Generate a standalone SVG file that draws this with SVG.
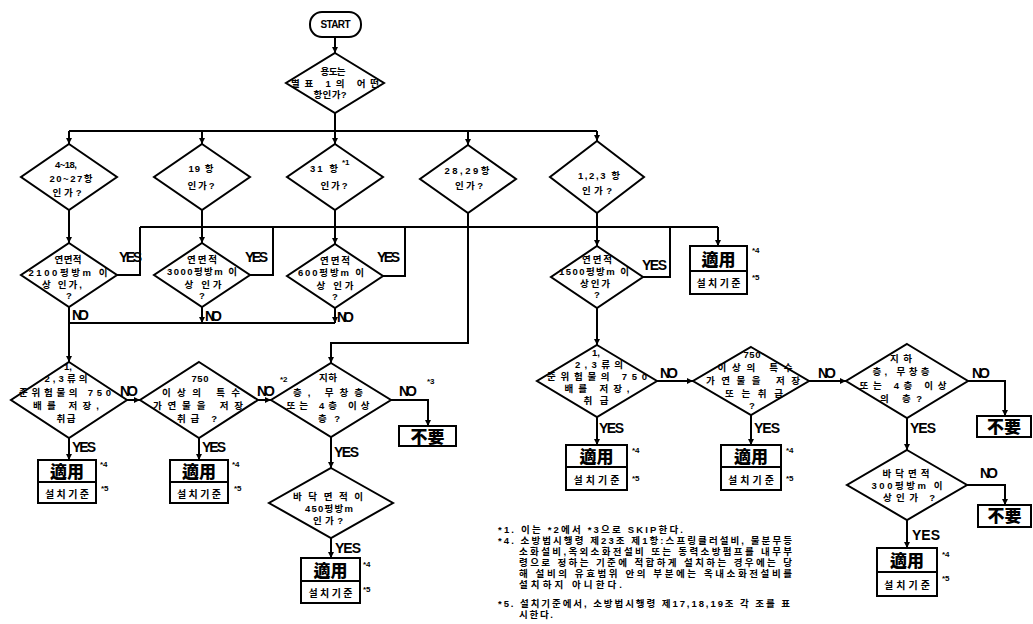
<svg xmlns="http://www.w3.org/2000/svg" width="1033" height="624" viewBox="0 0 1033 624">
<style>
.ln{fill:none;stroke:#000;stroke-width:2}
.sh{fill:#fff;stroke:#000;stroke-width:2}
.t{font-family:"Liberation Sans","Noto Sans CJK KR",sans-serif;font-weight:700;font-size:9.5px;text-anchor:middle;fill:#000}
.yn{font-family:"Liberation Sans",Arial,sans-serif;font-weight:700;font-size:14px;fill:#000}
.big{font-family:"Noto Sans CJK KR","Noto Sans CJK SC",sans-serif;font-weight:900;font-size:17px;text-anchor:middle;fill:#000}
.sm{font-family:"Noto Sans CJK KR",sans-serif;font-weight:700;font-size:10px;text-anchor:middle;fill:#000}
.mk{font-family:"Liberation Sans",Arial,sans-serif;font-weight:700;font-size:8px;fill:#000}
.note{font-family:"Liberation Sans","Noto Sans CJK KR",sans-serif;font-weight:700;font-size:9.5px;fill:#000}
.st{font-family:"Liberation Sans",Arial,sans-serif;font-weight:700;font-size:10px;text-anchor:middle;fill:#000}
</style>
<defs>
<marker id="ar" markerUnits="userSpaceOnUse" markerWidth="7" markerHeight="7" refX="6" refY="3" orient="auto">
<path d="M0,0 L6,3 L0,6 z" fill="#000"/>
</marker>
</defs>

<g id="connectors">
<path class="ln" d="M335,37 V53" marker-end="url(#ar)"/>
<path class="ln" d="M335,113 V131 M69,131 H597"/>
<path class="ln" d="M69,131 V144" marker-end="url(#ar)"/>
<path class="ln" d="M202,131 V144" marker-end="url(#ar)"/>
<path class="ln" d="M335,131 V144" marker-end="url(#ar)"/>
<path class="ln" d="M468,131 V145" marker-end="url(#ar)"/>
<path class="ln" d="M597,131 V141" marker-end="url(#ar)"/>
<path class="ln" d="M69,210 V243" marker-end="url(#ar)"/>
<path class="ln" d="M202,210 V243" marker-end="url(#ar)"/>
<path class="ln" d="M335,210 V244" marker-end="url(#ar)"/>
<path class="ln" d="M597,213 V246" marker-end="url(#ar)"/>
<path class="ln" d="M468,213 V343 H331 V363" marker-end="url(#ar)"/>
<path class="ln" d="M140,227 H718"/>
<path class="ln" d="M718,227 V246" marker-end="url(#ar)"/>
<path class="ln" d="M117,275 H140 V227"/>
<path class="ln" d="M250,275 H273 V227"/>
<path class="ln" d="M383,276 H405 V227"/>
<path class="ln" d="M643,277 H670 V227"/>
<path class="ln" d="M69,323 H335"/>
<path class="ln" d="M202,307 V323" marker-end="url(#ar)"/>
<path class="ln" d="M335,308 V323" marker-end="url(#ar)"/>
<path class="ln" d="M69,307 V362" marker-end="url(#ar)"/>
<path class="ln" d="M597,308 V345" marker-end="url(#ar)"/>
<path class="ln" d="M127,400 H140" marker-end="url(#ar)"/>
<path class="ln" d="M258,400 H271" marker-end="url(#ar)"/>
<path class="ln" d="M391,400 H428 V426" marker-end="url(#ar)"/>
<path class="ln" d="M69,438 V460" marker-end="url(#ar)"/>
<path class="ln" d="M199,438 V460" marker-end="url(#ar)"/>
<path class="ln" d="M331,437 V468" marker-end="url(#ar)"/>
<path class="ln" d="M331,538 V558" marker-end="url(#ar)"/>
<path class="ln" d="M657,381 H693" marker-end="url(#ar)"/>
<path class="ln" d="M809,381 H846" marker-end="url(#ar)"/>
<path class="ln" d="M968,381 H1005 V416" marker-end="url(#ar)"/>
<path class="ln" d="M597,417 V445" marker-end="url(#ar)"/>
<path class="ln" d="M751,415 V445" marker-end="url(#ar)"/>
<path class="ln" d="M907,418 V450" marker-end="url(#ar)"/>
<path class="ln" d="M967,485 H1005 V505" marker-end="url(#ar)"/>
<path class="ln" d="M907,520 V548" marker-end="url(#ar)"/>
<text class="yn" x="119" y="262" textLength="23">YES</text>
<text class="yn" x="245" y="262" textLength="23">YES</text>
<text class="yn" x="377" y="262" textLength="23">YES</text>
<text class="yn" x="642" y="270" textLength="25">YES</text>
<text class="yn" x="72" y="320" textLength="17">NO</text>
<text class="yn" x="205" y="321" textLength="17">NO</text>
<text class="yn" x="337" y="322" textLength="17">NO</text>
<text class="yn" x="120" y="396" textLength="18">NO</text>
<text class="yn" x="257" y="396" textLength="18">NO</text>
<text class="mk" x="280" y="382">*2</text>
<text class="yn" x="399" y="396" textLength="18">NO</text>
<text class="mk" x="427" y="384">*3</text>
<text class="yn" x="72" y="452" textLength="24">YES</text>
<text class="yn" x="202" y="452" textLength="24">YES</text>
<text class="yn" x="334" y="457" textLength="25">YES</text>
<text class="yn" x="335" y="553" textLength="26">YES</text>
<text class="yn" x="660" y="378" textLength="18">NO</text>
<text class="yn" x="818" y="378" textLength="18">NO</text>
<text class="yn" x="972" y="378" textLength="18">NO</text>
<text class="yn" x="980" y="478" textLength="18">NO</text>
<text class="yn" x="599" y="433" textLength="25">YES</text>
<text class="yn" x="754" y="433" textLength="26">YES</text>
<text class="yn" x="910" y="433" textLength="26">YES</text>
<text class="yn" x="912" y="540" textLength="28">YES</text>
</g>

<g id="start">
<rect class="sh" x="310" y="12" width="51" height="25" rx="12"/>
<text class="st" x="335.5" y="28" textLength="30">START</text>
</g>

<g id="q-usage">
<polygon class="sh" points="335,53 384,83 335,113 286,83"/>
<text class="t"><tspan x="333" y="75" textLength="25">용도는</tspan><tspan x="335" y="87" textLength="88">별표 1의 어떤</tspan><tspan x="330" y="98" textLength="33">항인가?</tspan></text>
</g>

<g id="q-4-18">
<polygon class="sh" points="69,144 117,177 69,210 21,177"/>
<text class="t"><tspan x="66" y="168" textLength="22">4~18,</tspan><tspan x="71" y="182" textLength="43">20~27항</tspan><tspan x="67" y="196" textLength="29">인가?</tspan></text>
</g>
<g id="q-19">
<polygon class="sh" points="202,144 250,177 202,210 154,177"/>
<text class="t"><tspan x="201" y="172" textLength="25">19 항</tspan><tspan x="201" y="189" textLength="27">인가?</tspan></text>
</g>
<g id="q-31">
<polygon class="sh" points="335,144 383,177 335,210 287,177"/>
<text class="t"><tspan x="324" y="172" textLength="28">31 항</tspan><tspan x="334" y="189" textLength="27">인가?</tspan></text>
<text class="mk" x="342" y="165">*1</text>
</g>
<g id="q-28-29">
<polygon class="sh" points="468,145 516,179 468,213 420,179"/>
<text class="t"><tspan x="467" y="174" textLength="45">28,29항</tspan><tspan x="469" y="189" textLength="28">인가?</tspan></text>
</g>
<g id="q-1-2-3">
<polygon class="sh" points="597,141 644,177 597,213 550,177"/>
<text class="t"><tspan x="599" y="179" textLength="42">1,2,3 항</tspan><tspan x="597" y="194" textLength="30">인가?</tspan></text>
</g>

<g id="q-2100">
<polygon class="sh" points="69,243 117,275 69,307 21,275"/>
<text class="t"><tspan x="68" y="263" textLength="27">연면적</tspan><tspan x="68" y="276" textLength="79">2100평방m 이</tspan><tspan x="62" y="288" textLength="40">상 인가,</tspan><tspan x="69" y="299">?</tspan></text>
</g>
<g id="q-3000">
<polygon class="sh" points="202,243 250,275 202,307 154,275"/>
<text class="t"><tspan x="202" y="263" textLength="30">연면적</tspan><tspan x="202" y="275" textLength="70">3000평방m 이</tspan><tspan x="203" y="288" textLength="37">상 인가</tspan><tspan x="202" y="299">?</tspan></text>
</g>
<g id="q-600">
<polygon class="sh" points="335,244 383,276 335,308 287,276"/>
<text class="t"><tspan x="335" y="264" textLength="30">연면적</tspan><tspan x="331" y="276" textLength="66">600평방m 이</tspan><tspan x="335" y="289" textLength="37">상 인가</tspan><tspan x="335" y="300">?</tspan></text>
</g>
<g id="q-1500">
<polygon class="sh" points="597,246 643,277 597,308 551,277"/>
<text class="t"><tspan x="597" y="263" textLength="30">연면적</tspan><tspan x="594" y="275" textLength="70">1500평방m 이</tspan><tspan x="595" y="287" textLength="30">상인가</tspan><tspan x="597" y="298">?</tspan></text>
</g>

<g id="box-top-right">
<rect class="sh" x="690" y="246" width="57" height="48"/>
<line class="ln" x1="690" y1="271" x2="747" y2="271"/>
<text class="big" x="718.5" y="266">適用</text>
<text class="sm" x="718.5" y="287" textLength="44">설치기준</text>
<text class="mk" x="752" y="253">*4</text>
<text class="mk" x="752" y="280">*5</text>
</g>

<g id="q-hazmat-left">
<polygon class="sh" points="69,362 127,400 69,438 11,400"/>
<text class="t"><tspan x="68" y="370">1,</tspan><tspan x="66" y="382" textLength="43">2,3류의</tspan><tspan x="65" y="396" textLength="92">준위험물의 750</tspan><tspan x="66" y="409" textLength="66">배를 저장,</tspan><tspan x="66" y="422" textLength="19">취급</tspan></text>
</g>
<g id="q-special-left">
<polygon class="sh" points="199,362 258,400 199,438 140,400"/>
<text class="t"><tspan x="200" y="382" textLength="17">750</tspan><tspan x="201" y="396" textLength="78">이상의 특수</tspan><tspan x="198" y="409" textLength="90">가연물을 저장</tspan><tspan x="197" y="422" textLength="40">취급 ?</tspan></text>
</g>
<g id="q-floor-left">
<polygon class="sh" points="331,363 391,400 331,437 271,400"/>
<text class="t"><tspan x="328" y="381" textLength="18">지하</tspan><tspan x="328" y="396" textLength="70">층, 무창층</tspan><tspan x="328" y="409" textLength="83">또는 4층 이상</tspan><tspan x="329" y="422" textLength="22">층 ?</tspan></text>
</g>
<g id="no-left">
<rect class="sh" x="399" y="426" width="57" height="20"/>
<text class="big" x="427.5" y="443">不要</text>
</g>
<g id="box-left-1">
<rect class="sh" x="38" y="460" width="58" height="43"/>
<line class="ln" x1="38" y1="482" x2="96" y2="482"/>
<text class="big" x="67" y="478">適用</text>
<text class="sm" x="67" y="498" textLength="44">설치기준</text>
<text class="mk" x="100" y="467">*4</text>
<text class="mk" x="101" y="491">*5</text>
</g>
<g id="box-left-2">
<rect class="sh" x="170" y="460" width="58" height="43"/>
<line class="ln" x1="170" y1="482" x2="228" y2="482"/>
<text class="big" x="199" y="478">適用</text>
<text class="sm" x="199" y="498" textLength="44">설치기준</text>
<text class="mk" x="232" y="467">*4</text>
<text class="mk" x="234" y="491">*5</text>
</g>
<g id="q-450">
<polygon class="sh" points="331,468 393,503 331,538 269,503"/>
<text class="t"><tspan x="328" y="500" textLength="70">바닥면적이</tspan><tspan x="329" y="512" textLength="48">450평방m</tspan><tspan x="328" y="524" textLength="30">인가?</tspan></text>
</g>
<g id="box-left-3">
<rect class="sh" x="301" y="558" width="59" height="45"/>
<line class="ln" x1="301" y1="581" x2="360" y2="581"/>
<text class="big" x="330.5" y="577">適用</text>
<text class="sm" x="330.5" y="597" textLength="44">설치기준</text>
<text class="mk" x="363" y="567">*4</text>
<text class="mk" x="363" y="592">*5</text>
</g>

<g id="q-hazmat-right">
<polygon class="sh" points="597,345 657,381 597,417 537,381"/>
<text class="t"><tspan x="596" y="356">1,</tspan><tspan x="599" y="368" textLength="48">2,3류의</tspan><tspan x="597" y="380" textLength="100">준위험물의 750</tspan><tspan x="597" y="392" textLength="65">배를 저장,</tspan><tspan x="596" y="404" textLength="25">취급</tspan></text>
</g>
<g id="q-special-right">
<polygon class="sh" points="751,347 809,381 751,415 693,381"/>
<text class="t"><tspan x="752" y="358" textLength="17">750</tspan><tspan x="755" y="371" textLength="75">이상의 특수</tspan><tspan x="753" y="384" textLength="94">가연물을 저장</tspan><tspan x="754" y="397" textLength="58">또는취급</tspan><tspan x="752" y="409">?</tspan></text>
</g>
<g id="q-floor-right">
<polygon class="sh" points="907,344 968,381 907,418 846,381"/>
<text class="t"><tspan x="901" y="362" textLength="22">지하</tspan><tspan x="901" y="375" textLength="57">층, 무창층</tspan><tspan x="903" y="389" textLength="87">또는 4층 이상</tspan><tspan x="901" y="402" textLength="42">의 층?</tspan></text>
</g>
<g id="no-right-1">
<rect class="sh" x="977" y="416" width="54" height="21"/>
<text class="big" x="1004" y="433">不要</text>
</g>
<g id="box-right-1">
<rect class="sh" x="566" y="445" width="61" height="45"/>
<line class="ln" x1="566" y1="467" x2="627" y2="467"/>
<text class="big" x="596.5" y="463">適用</text>
<text class="sm" x="596.5" y="484" textLength="46">설치기준</text>
<text class="mk" x="632" y="453">*4</text>
<text class="mk" x="632" y="481">*5</text>
</g>
<g id="box-right-2">
<rect class="sh" x="721" y="445" width="60" height="45"/>
<line class="ln" x1="721" y1="467" x2="781" y2="467"/>
<text class="big" x="751" y="463">適用</text>
<text class="sm" x="751" y="484" textLength="46">설치기준</text>
<text class="mk" x="786" y="453">*4</text>
<text class="mk" x="786" y="481">*5</text>
</g>
<g id="q-300">
<polygon class="sh" points="907,450 967,485 907,520 847,485"/>
<text class="t"><tspan x="906" y="477" textLength="47">바닥면적</tspan><tspan x="907" y="489" textLength="71">300평방m 이</tspan><tspan x="909" y="501" textLength="52">상인가 ?</tspan></text>
</g>
<g id="no-right-2">
<rect class="sh" x="978" y="505" width="53" height="22"/>
<text class="big" x="1004.5" y="522">不要</text>
</g>
<g id="box-right-3">
<rect class="sh" x="877" y="548" width="60" height="48"/>
<line class="ln" x1="877" y1="572" x2="937" y2="572"/>
<text class="big" x="907" y="567">適用</text>
<text class="sm" x="907" y="589" textLength="46">설치기준</text>
<text class="mk" x="942" y="557">*4</text>
<text class="mk" x="942" y="581">*5</text>
</g>

<g id="notes">
<text class="note"><tspan x="498" y="533" textLength="185">*1. 이는 *2에서 *3으로 SKIP한다.</tspan><tspan x="498" y="544" textLength="294">*4. 소방법시행령 제23조 제1항:스프링클러설비, 물분무등</tspan><tspan x="519" y="555" textLength="273">소화설비,옥외소화전설비 또는 동력소방펌프를 내무부</tspan><tspan x="519" y="566" textLength="273">령으로 정하는 기준에 적합하게 설치하는 경우에는 당</tspan><tspan x="519" y="577" textLength="273">해 설비의 유효범위 안의 부분에는 옥내소화전설비를</tspan><tspan x="519" y="588" textLength="103">설치하지 아니한다.</tspan><tspan x="498" y="607" textLength="292">*5. 설치기준에서, 소방법시행령 제17,18,19조 각 조를 표</tspan><tspan x="519" y="618" textLength="34">시한다.</tspan></text>
</g>
</svg>
